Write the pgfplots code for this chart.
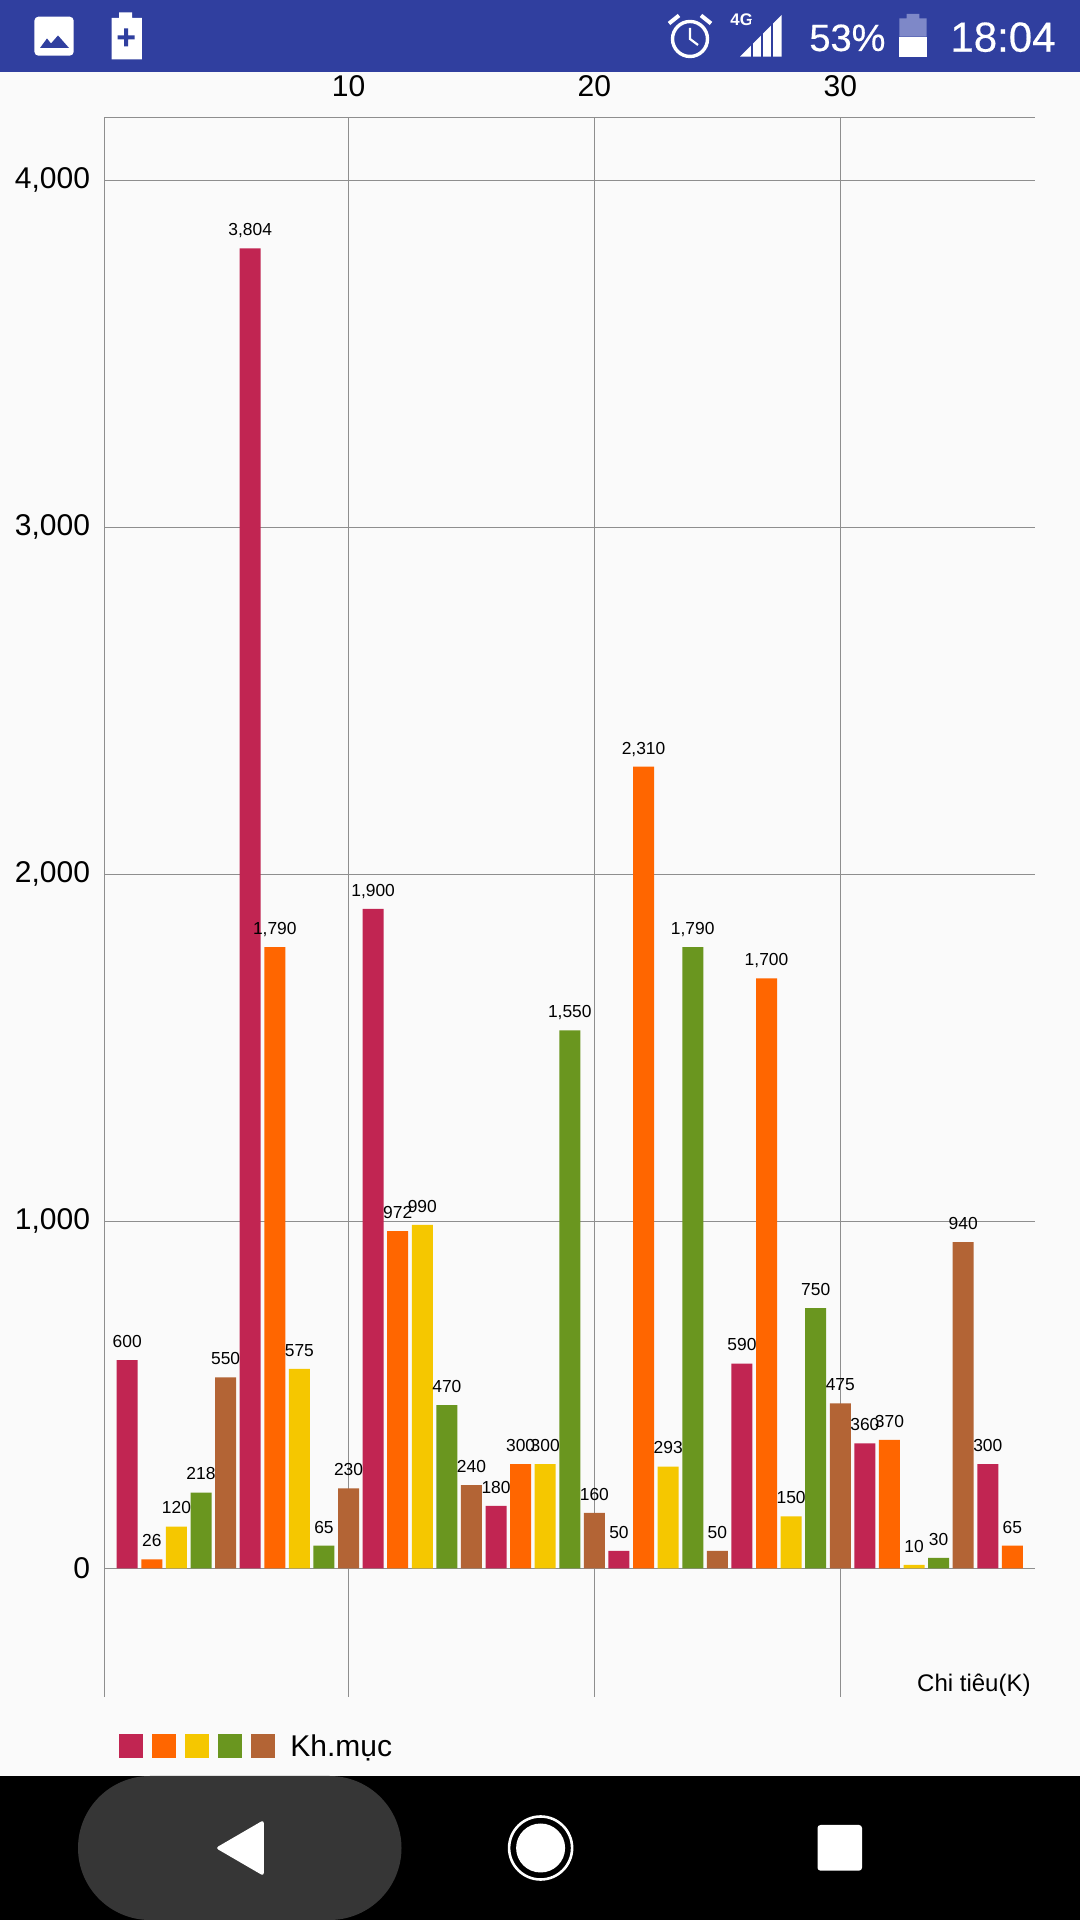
\documentclass[border=0pt]{standalone}
\usepackage{fontspec}
\setmainfont{Liberation Sans}
\newfontfamily\medfont[FakeBold=0.4]{Liberation Sans}
\usepackage{pgfplots}
\pgfplotsset{compat=1.18}
\definecolor{cA}{RGB}{193,37,82}
\definecolor{cB}{RGB}{255,102,0}
\definecolor{cC}{RGB}{245,199,0}
\definecolor{cD}{RGB}{106,150,31}
\definecolor{cE}{RGB}{179,100,53}
\definecolor{pagebg}{HTML}{FAFAFA}
\definecolor{barblue}{HTML}{303F9F}
\definecolor{batblue}{HTML}{7E88C8}
\definecolor{gridc}{HTML}{8E8E8E}
\definecolor{pill}{HTML}{363636}
\newcommand{\fs}[1]{\fontsize{#1pt}{#1pt}\selectfont}
\pgfplotsset{mybar/.style={ybar, bar width=10.5pt, bar shift=0pt, draw=none, fill=#1}}
\begin{document}
\begin{tikzpicture}
\path[use as bounding box, fill=pagebg] (0,0) rectangle (540pt,960pt);
\begin{scope}[shift={(0,960pt)}, x=0.5pt, y=-0.5pt]
  % status bar
  \fill[barblue] (0,0) rectangle (1080,72);
  \fill[white, rounded corners=2pt] (34.4,16.7) rectangle (73.7,55.7);
  \fill[barblue] (40,48) -- (47,38.5) -- (51,43.5) -- (58,35.5) -- (69,48) -- cycle;
  \fill[white] (119,12.3) rectangle (132,20) (111.6,18) rectangle (141.9,59.3);
  \fill[barblue] (124,28.5) rectangle (128,46.5) (117.5,35.5) rectangle (134.5,39.5);
  % alarm
  \draw[white, line width=1.7pt] (690,39) circle (17.5);
  \draw[white, line width=1.1pt] (690,28) -- (690,39) -- (698,45);
  \draw[white, line width=2pt] (669,23.5) -- (679,15.5) (711,23.5) -- (701,15.5);
  \node[white, anchor=base west, inner sep=0pt, font=\fs{8.4}\bfseries] at (730,26) {4G};
  \fill[white] (740,56.7) -- (781.7,15) -- (781.7,56.7) -- cycle;
  \draw[barblue, line width=0.8pt] (751.7,20) -- (751.7,58) (761.7,20) -- (761.7,58) (771.7,10) -- (771.7,58);
  \node[white, anchor=base west, inner sep=0pt, font=\medfont\fs{19}] at (809,51) {53\%};
  \fill[batblue] (906.7,14) rectangle (919.3,19) (899.3,18.3) rectangle (926.7,36.7);
  \fill[white] (899.3,36.7) rectangle (926.7,56.7);
  \node[white, anchor=base west, inner sep=0pt, font=\medfont\fs{21}] at (950,51.7) {18:04};
  % legend
  \fill[cA] (119,1734) rectangle (143,1758);
  \fill[cB] (152,1734) rectangle (176,1758);
  \fill[cC] (185,1734) rectangle (209,1758);
  \fill[cD] (218,1734) rectangle (242,1758);
  \fill[cE] (251,1734) rectangle (275,1758);
  \node[anchor=base west, inner sep=0pt, font=\fs{15}] at (290,1756.7) {Kh.mục};
  \node[anchor=base east, inner sep=0pt, font=\fs{12}] at (1031,1692) {Chi tiêu(K)};
  % navigation bar
  \fill[black] (0,1776) rectangle (1080,1920);
  \fill[pill, rounded corners=36pt] (78,1776) rectangle (401.5,1920);
  \fill[white, rounded corners=1.5pt] (215.6,1848) -- (263.8,1820) -- (263.8,1876) -- cycle;
  \draw[white, line width=1.3pt] (540.6,1848) circle (31.5);
  \fill[white] (540.6,1848) circle (24.5);
  \fill[white, rounded corners=1.5pt] (817.5,1825) rectangle (862,1870.7);
\end{scope}
\begin{axis}[
  at={(52.35pt,111.65pt)}, anchor=south west,
  scale only axis, width=465.15pt, height=789.7pt,
  xmin=0.083, xmax=37.92, ymin=-370, ymax=4181.5,
  axis x line*=top, axis y line*=left,
  axis line style={gridc, line width=0.6pt},
  grid=major, grid style={gridc, line width=0.5pt},
  major tick length=0pt,
  xtick={10,20,30}, ytick={0,1000,2000,3000,4000},
  scaled ticks=false,
  /pgf/number format/assume math mode=true,
  /pgf/number format/1000 sep={,},
  tick label style={font=\fs{15}},
  xticklabel style={anchor=base, yshift=10.5pt},
  yticklabel style={anchor=east, xshift=-3.8pt, yshift=0pt},
  clip=false,
]
\addplot[mybar=cA] coordinates {(1,600) (6,3804) (11,1900) (16,180) (21,50) (26,590) (31,360) (36,300)};
\addplot[mybar=cB] coordinates {(2,26) (7,1790) (12,972) (17,300) (22,2310) (27,1700) (32,370) (37,65)};
\addplot[mybar=cC] coordinates {(3,120) (8,575) (13,990) (18,300) (23,293) (28,150) (33,10)};
\addplot[mybar=cD] coordinates {(4,218) (9,65) (14,470) (19,1550) (24,1790) (29,750) (34,30)};
\addplot[mybar=cE] coordinates {(5,550) (10,230) (15,240) (20,160) (25,50) (30,475) (35,940)};
\addplot[draw=none, mark=none, nodes near coords,
  every node near coord/.style={anchor=base, inner sep=0pt, yshift=6.35pt, font=\fs{8.7}, black}]
 coordinates {(1,600) (2,26) (3,120) (4,218) (5,550) (6,3804) (7,1790) (8,575) (9,65) (10,230)
  (11,1900) (12,972) (13,990) (14,470) (15,240) (16,180) (17,300) (18,300) (19,1550) (20,160)
  (21,50) (22,2310) (23,293) (24,1790) (25,50) (26,590) (27,1700) (28,150) (29,750) (30,475)
  (31,360) (32,370) (33,10) (34,30) (35,940) (36,300) (37,65)};
\end{axis}
\end{tikzpicture}
\end{document}
